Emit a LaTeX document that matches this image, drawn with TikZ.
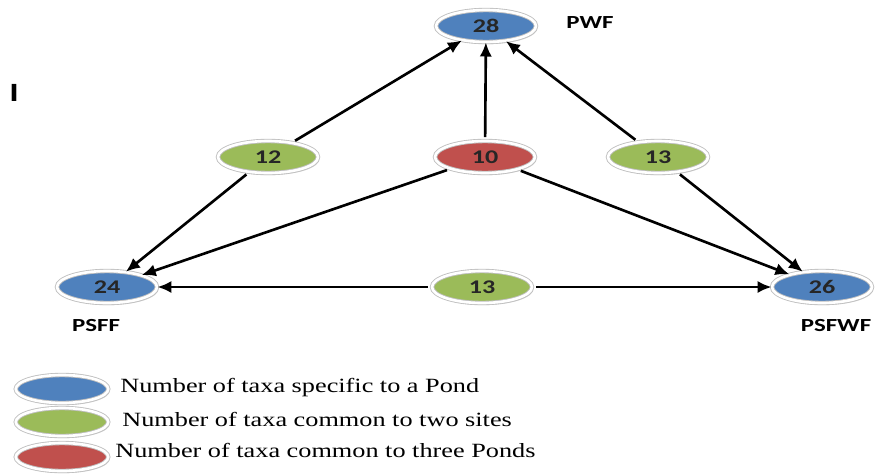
\documentclass[tikz,border=0pt]{standalone}
\usepackage{fontspec}
\setmainfont{Liberation Serif}
\newfontfamily\boldsans[FakeStretch=1.35]{Carlito}
\newfontfamily\legendfont[FakeStretch=1.3]{Liberation Serif}
\usetikzlibrary{arrows.meta,shapes.geometric,shadows}

\definecolor{pondblue}{HTML}{4F81BD}
\definecolor{twogreen}{HTML}{9BBB59}
\definecolor{threered}{HTML}{C0504D}

\tikzset{
    blob/.style={ellipse, minimum width=2.0cm, minimum height=0.64cm, inner sep=0pt,
        draw=gray!50, line width=0.5pt, double=white, double distance=1.5pt,
        drop shadow={shadow xshift=0.8pt, shadow yshift=-1.2pt, opacity=0.3},
        font=\boldsans\bfseries\fontsize{11}{12}\selectfont, text=black!85},
    keyblob/.style={blob, minimum width=1.85cm, minimum height=0.56cm},
    sitename/.style={font=\boldsans\bfseries\fontsize{10.5}{12}\selectfont},
    keytext/.style={anchor=west, inner sep=0pt, font=\legendfont\fontsize{11.5}{13}\selectfont},
    flow/.style={-{Latex[length=8pt,width=7pt]}, line width=1.5pt, shorten <=2pt}
}

\begin{document}
\begin{tikzpicture}[x=0.02cm, y=-0.02cm]
    \useasboundingbox (0,0) rectangle (886,474);

    % Ponds
    \node[blob, fill=pondblue] (pwf) at (486,26) {28};
    \node[blob, fill=pondblue] (psff) at (107,287) {24};
    \node[blob, fill=pondblue] (psfwf) at (822,287) {26};
    \node[sitename] (pwflabel) at (590,23) {PWF};
    \node[sitename] (psfflabel) at (96,326) {PSFF};
    \node[sitename] (psfwflabel) at (836,326) {PSFWF};
    \node[font=\boldsans\bfseries\fontsize{15}{16}\selectfont] (panel) at (14,93) {I};

    % Shared taxa
    \node[blob, fill=twogreen] (twoleft) at (268,157) {12};
    \node[blob, fill=threered] (three) at (485,157) {10};
    \node[blob, fill=twogreen] (tworight) at (658,157) {13};
    \node[blob, fill=twogreen] (twobottom) at (482,287) {13};

    % Arrows
    \draw[flow] (twoleft) -- (pwf);
    \draw[flow] (twoleft) -- (psff);
    \draw[flow] (three) -- (pwf);
    \draw[flow] (three) -- (psff);
    \draw[flow] (three) -- (psfwf);
    \draw[flow] (tworight) -- (pwf);
    \draw[flow] (tworight) -- (psfwf);
    \draw[flow] (twobottom) -- (psff);
    \draw[flow] (twobottom) -- (psfwf);

    % Legend
    \node[keyblob, fill=pondblue] (keyone) at (62,389) {};
    \node[keyblob, fill=twogreen] (keytwo) at (62,422) {};
    \node[keyblob, fill=threered] (keythree) at (62,457) {};
    \node[keytext] (keyonetext) at (120,388) {Number of taxa specific to a Pond};
    \node[keytext] (keytwotext) at (122,419) {Number of taxa common to two sites};
    \node[keytext] (keythreetext) at (115,450) {Number of taxa common to three Ponds};
\end{tikzpicture}
\end{document}
